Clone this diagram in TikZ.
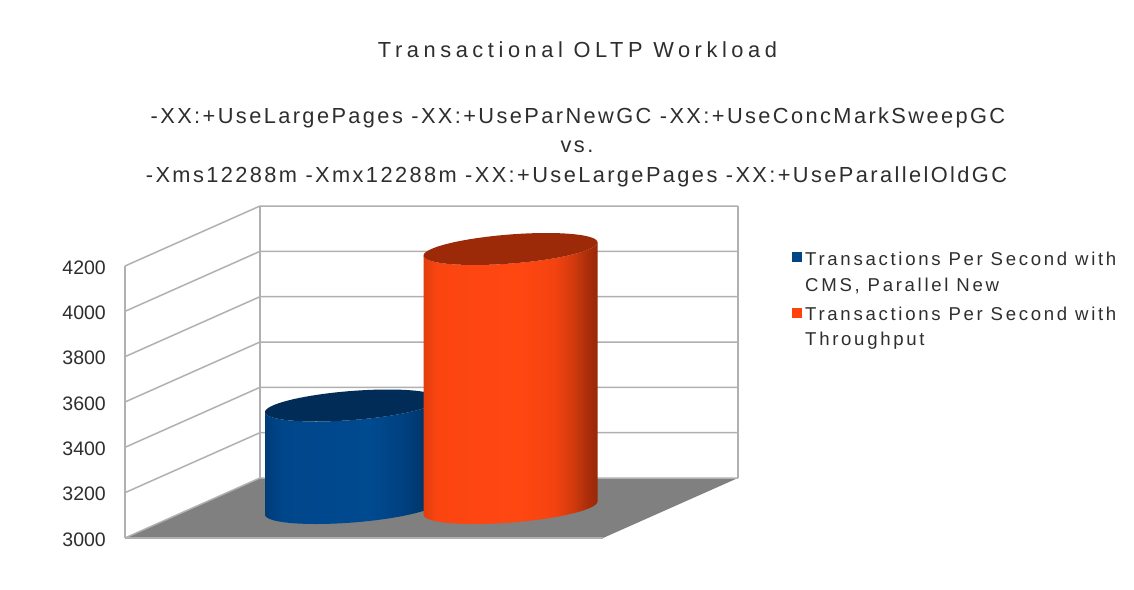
\documentclass[tikz,border=0pt]{standalone}
\usepackage{fontspec}
\setmainfont{Liberation Sans}
\newfontfamily\titlefont{Liberation Sans}[LetterSpace=21]
\newfontfamily\subfont{Liberation Sans}[LetterSpace=11]
\newfontfamily\legfont{Liberation Sans}[LetterSpace=14.5]

\definecolor{txt}{HTML}{2E2E2E}
\definecolor{gridgray}{HTML}{B0B0B0}
\definecolor{floorgray}{HTML}{808080}
\definecolor{cmsblue}{HTML}{004586}
\definecolor{cmstop}{HTML}{002C57}
\definecolor{tpred}{HTML}{FF420E}
\definecolor{tptop}{HTML}{9C2A08}

% side colours of the orange cylinder, left to right
\definecolor{oa}{HTML}{E23D0D}
\definecolor{ob}{HTML}{FB4511}
\definecolor{oc}{HTML}{FF4712}
\definecolor{od}{HTML}{F44310}
\definecolor{oe}{HTML}{D23A0E}
\definecolor{of}{HTML}{AB2E0A}
\definecolor{og}{HTML}{982808}
% side colours of the blue cylinder, left to right
\definecolor{ba}{HTML}{003C78}
\definecolor{bb}{HTML}{00468B}
\definecolor{bc}{HTML}{004A90}
\definecolor{bd}{HTML}{004080}
\definecolor{be}{HTML}{002D5A}

% side shading of the cylinders (bounding box maps to 25bp..75bp)
\pgfdeclarehorizontalshading{orangebar}{100bp}{%
  color(0bp)=(oa); color(25bp)=(oa); color(29bp)=(ob); color(52.5bp)=(oc);
  color(62.5bp)=(od); color(68bp)=(oe); color(72bp)=(of); color(75bp)=(og);
  color(100bp)=(og)}
\pgfdeclarehorizontalshading{bluebar}{100bp}{%
  color(0bp)=(ba); color(25bp)=(ba); color(30bp)=(bb); color(55bp)=(bc);
  color(65bp)=(bd); color(75bp)=(be); color(100bp)=(be)}

% cylinder: centre x, top centre y, bottom centre y, side shading, top colour
\newcommand\barcyl[5]{%
  \shade[shading=#4]
    plot[domain=204.44:384.44,samples=61] ({#1+79.2*cos(\x)+36*sin(\x)},{#3-16*sin(\x)})
    -- plot[domain=384.44:204.44,samples=61] ({#1+79.2*cos(\x)+36*sin(\x)},{#2-16*sin(\x)})
    -- cycle;
  \fill[#5] plot[domain=0:360,samples=91] ({#1+79.2*cos(\x)+36*sin(\x)},{#2-16*sin(\x)}) -- cycle;
}

\begin{document}
\begin{tikzpicture}[x=1pt,y=-1pt,
  grid/.style={draw=gridgray,line width=1.5pt},
  ticklabel/.style={anchor=base east,inner sep=0pt,text=txt,font=\fontsize{19.5}{22}\selectfont},
  titletext/.style={anchor=base,inner sep=0pt,text=txt,font=\titlefont\fontsize{21.8}{25}\selectfont},
  subtext/.style={anchor=base,inner sep=0pt,text=txt,font=\subfont\fontsize{21.8}{25}\selectfont},
  legtext/.style={anchor=base west,inner sep=0pt,text=txt,font=\legfont\fontsize{18.6}{22}\selectfont},
  legkey/.style={draw=none,minimum size=10pt,inner sep=0pt}]

\useasboundingbox (0,0) rectangle (1134,589);
\fill[white] (0,0) rectangle (1134,589);

% walls
\fill[white] (125,266) -- (260,206) -- (260,478) -- (125,538) -- cycle;
\fill[white] (260,206) rectangle (738,478);
% floor
\fill[floorgray] (125,538) -- (603,538) -- (738,478) -- (260,478) -- cycle;

% grid lines on the side and back walls
\foreach \k in {0,...,6}{
  \draw[grid] (125,{266+\k*45.333}) -- (260,{206+\k*45.333}) -- (738,{206+\k*45.333});
}
\draw[grid] (125,266) -- (125,538);
\draw[grid] (260,206) -- (260,478);
\draw[grid] (738,206) -- (738,478);
\draw[grid] (125,538) -- (603,538);

% value axis labels
\foreach \k/\v in {0/4200,1/4000,2/3800,3/3600,4/3400,5/3200,6/3000}{
  \node[ticklabel] (tick\v) at (106,{266+\k*45.333+8}) {\v};
}

% bars
\barcyl{352}{405.5}{508}{bluebar}{cmstop}
\barcyl{510.5}{249}{508}{orangebar}{tptop}

% titles
\node[titletext] (title) at (577.5,57.3) {Transactional OLTP Workload};
\node[subtext] (opts1) at (578,123.3) {-XX:+UseLargePages -XX:+UseParNewGC -XX:+UseConcMarkSweepGC};
\node[subtext] (vs) at (577,152.8) {vs.};
\node[subtext] (opts2) at (576.5,182.3) {-Xms12288m -Xmx12288m -XX:+UseLargePages -XX:+UseParallelOldGC};

% legend
\node[legkey,fill=cmsblue] (key1) at (796.5,257) {};
\node[legtext] (leg1a) at (805,265) {Transactions Per Second with};
\node[legtext] (leg1b) at (805,291.7) {CMS, Parallel New};
\node[legkey,fill=tpred] (key2) at (796.5,312.5) {};
\node[legtext] (leg2a) at (805,320.7) {Transactions Per Second with};
\node[legtext] (leg2b) at (805,345) {Throughput};
\end{tikzpicture}
\end{document}
